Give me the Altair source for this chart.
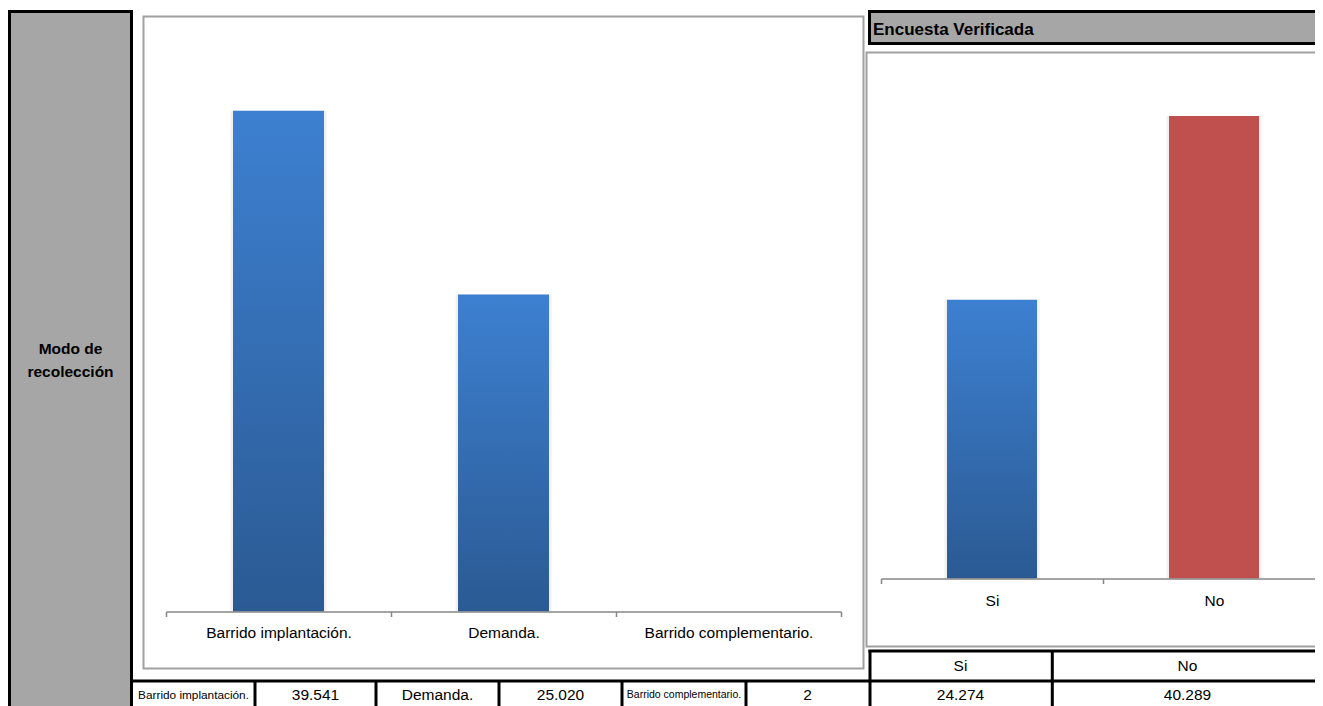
import altair as alt
import pandas as pd

# ---------------- data ----------------
modo_cats = ["Barrido implantación.", "Demanda.", "Barrido complementario."]
modo_vals = [39541, 25020, 2]
enc_cats = ["Si", "No"]
enc_vals = [24274, 40289]
panel_title = ["Modo de", "recolección"]
enc_title = "Encuesta Verificada"

# ---------------- layout helpers ----------------
FONT = "Liberation Sans"
W, H = 1307, 698
OX, OY = 8, 8


def px(x):
    return x - OX


def py(y):
    return y - OY


def fmt(v):
    return f"{v:,}".replace(",", ".")


GREY = "#a6a6a6"
FRAME = "#a0a0a0"
AXC = "#868686"

boxes = pd.DataFrame([
    dict(x=px(9.5), x2=px(131.5), y=py(11.5), y2=py(760), fill=GREY, stroke="#000000", sw=3),
    dict(x=px(143.5), x2=px(863.5), y=py(16.5), y2=py(668.5), fill="#ffffff", stroke=FRAME, sw=2),
    dict(x=px(866.5), x2=px(1360), y=py(52.5), y2=py(646.5), fill="#ffffff", stroke=FRAME, sw=2),
    dict(x=px(869.5), x2=px(1360), y=py(11.5), y2=py(43.5), fill=GREY, stroke="#000000", sw=3),
])

box_layer = alt.Chart(boxes).mark_rect().encode(
    x=alt.X("x:Q", scale=None), x2="x2:Q",
    y=alt.Y("y:Q", scale=None), y2="y2:Q",
    fill=alt.Fill("fill:N", scale=None),
    stroke=alt.Stroke("stroke:N", scale=None),
    strokeWidth=alt.StrokeWidth("sw:Q", scale=None),
)

lines = pd.DataFrame([
    dict(x=px(131.5), x2=px(1360), y=py(681), y2=py(681)),
    dict(x=px(868.5), x2=px(1360), y=py(651), y2=py(651)),
    dict(x=px(870), x2=px(870), y=py(650), y2=py(760)),
    dict(x=px(1052.3), x2=px(1052.3), y=py(650), y2=py(760)),
] + [dict(x=px(v), x2=px(v), y=py(680), y2=py(760)) for v in [255, 376, 499, 622, 746]])

line_layer = alt.Chart(lines).mark_rule(color="#000000", strokeWidth=3).encode(
    x=alt.X("x:Q", scale=None), x2="x2:Q",
    y=alt.Y("y:Q", scale=None), y2="y2:Q",
)

blue_grad = alt.Gradient(
    gradient="linear",
    stops=[alt.GradientStop(color="#3d80d1", offset=0),
           alt.GradientStop(color="#2b5a93", offset=1)],
    x1=0, x2=0, y1=0, y2=1,
)

modo_df = pd.DataFrame({"cat": modo_cats, "val": modo_vals})
enc_df = pd.DataFrame({"cat": enc_cats, "val": enc_vals})

left_xscale = alt.Scale(domain=modo_cats, range=[px(166), px(841)], paddingInner=0, paddingOuter=0)
left_yscale = alt.Scale(domain=[0, 45000], range=[py(611.5), py(41.5)])
right_xscale = alt.Scale(domain=enc_cats, range=[px(881), px(1325)], paddingInner=0, paddingOuter=0)
right_yscale = alt.Scale(domain=[0, 45000], range=[py(578.5), py(61.9)])


def make_axis(base_y, pad):
    return alt.Axis(
        title=None, orient="bottom", offset=py(base_y) - H,
        domainColor=AXC, tickColor=AXC, domainWidth=1.5, tickWidth=1.5,
        tickSize=5, tickBand="extent", labelAngle=0,
        labelFont=FONT, labelFontSize=15.5, labelColor="#000000",
        labelPadding=pad, labelOverlap=False, labelLimit=400, grid=False,
        zindex=1,
    )


left_shadow = alt.Chart(modo_df).mark_bar(size=96, color="#000000", opacity=0.06).encode(
    x=alt.X("cat:N", scale=left_xscale, axis=None),
    y=alt.Y("val:Q", scale=left_yscale, axis=None),
)
left_bars = alt.Chart(modo_df).mark_bar(size=91, color=blue_grad).encode(
    x=alt.X("cat:N", scale=left_xscale, axis=make_axis(611.5, 9)),
    y=alt.Y("val:Q", scale=left_yscale, axis=None),
)

right_shadow = alt.Chart(enc_df).mark_bar(size=95, color="#000000", opacity=0.06).encode(
    x=alt.X("cat:N", scale=right_xscale, axis=None),
    y=alt.Y("val:Q", scale=right_yscale, axis=None),
)
right_si = alt.Chart(enc_df).transform_filter(alt.datum.cat == enc_cats[0]).mark_bar(
    size=90, color=blue_grad).encode(
    x=alt.X("cat:N", scale=right_xscale, axis=make_axis(578.5, 10)),
    y=alt.Y("val:Q", scale=right_yscale, axis=None),
)
right_no = alt.Chart(enc_df).transform_filter(alt.datum.cat == enc_cats[1]).mark_bar(
    size=90, color="#c0504d").encode(
    x=alt.X("cat:N", scale=right_xscale, axis=None),
    y=alt.Y("val:Q", scale=right_yscale, axis=None),
)

bold_texts = pd.DataFrame([
    dict(t=panel_title[0], x=px(70.5), y=py(349), s=15.5),
    dict(t=panel_title[1], x=px(70.5), y=py(372), s=15.5),
])
bold_layer = alt.Chart(bold_texts).mark_text(
    font=FONT, fontWeight="bold", color="#000000", baseline="middle", align="center").encode(
    x=alt.X("x:Q", scale=None), y=alt.Y("y:Q", scale=None),
    size=alt.Size("s:Q", scale=None), text="t:N",
)
title_layer = alt.Chart(pd.DataFrame({"t": [enc_title]})).mark_text(
    font=FONT, fontWeight="bold", fontSize=17, color="#000000", baseline="middle", align="left").encode(
    x=alt.value(px(873)), y=alt.value(py(29.5)), text="t:N",
)

row_texts = [modo_cats[0], fmt(modo_vals[0]), modo_cats[1], fmt(modo_vals[1]),
             modo_cats[2], fmt(modo_vals[2]), fmt(enc_vals[0]), fmt(enc_vals[1])]
row_x = [193.5, 315.5, 437.5, 560.5, 684, 807.5, 960.5, 1187.5]
row_s = [11.8, 15.5, 15.5, 15.5, 10.5, 15.5, 15.5, 15.5]
cells = [dict(t=t, x=px(x), y=py(695), s=s) for t, x, s in zip(row_texts, row_x, row_s)]
cells += [dict(t=enc_cats[0], x=px(960.5), y=py(666), s=15.5),
          dict(t=enc_cats[1], x=px(1187.5), y=py(666), s=15.5)]
cell_layer = alt.Chart(pd.DataFrame(cells)).mark_text(
    font=FONT, color="#000000", baseline="middle", align="center").encode(
    x=alt.X("x:Q", scale=None), y=alt.Y("y:Q", scale=None),
    size=alt.Size("s:Q", scale=None), text="t:N",
)

chart = alt.layer(
    box_layer, line_layer,
    left_shadow, left_bars,
    right_shadow, right_si, right_no,
    bold_layer, title_layer, cell_layer,
).resolve_scale(
    x="independent", y="independent"
).resolve_axis(
    x="independent", y="independent"
).properties(
    width=W, height=H, padding=0,
    autosize=alt.AutoSizeParams(type="none"),
    background="#ffffff",
).configure(
    font=FONT,
    view=alt.ViewConfig(stroke=None),
)

chart.save("out.html", embed_options={"renderer": "svg", "actions": False})
